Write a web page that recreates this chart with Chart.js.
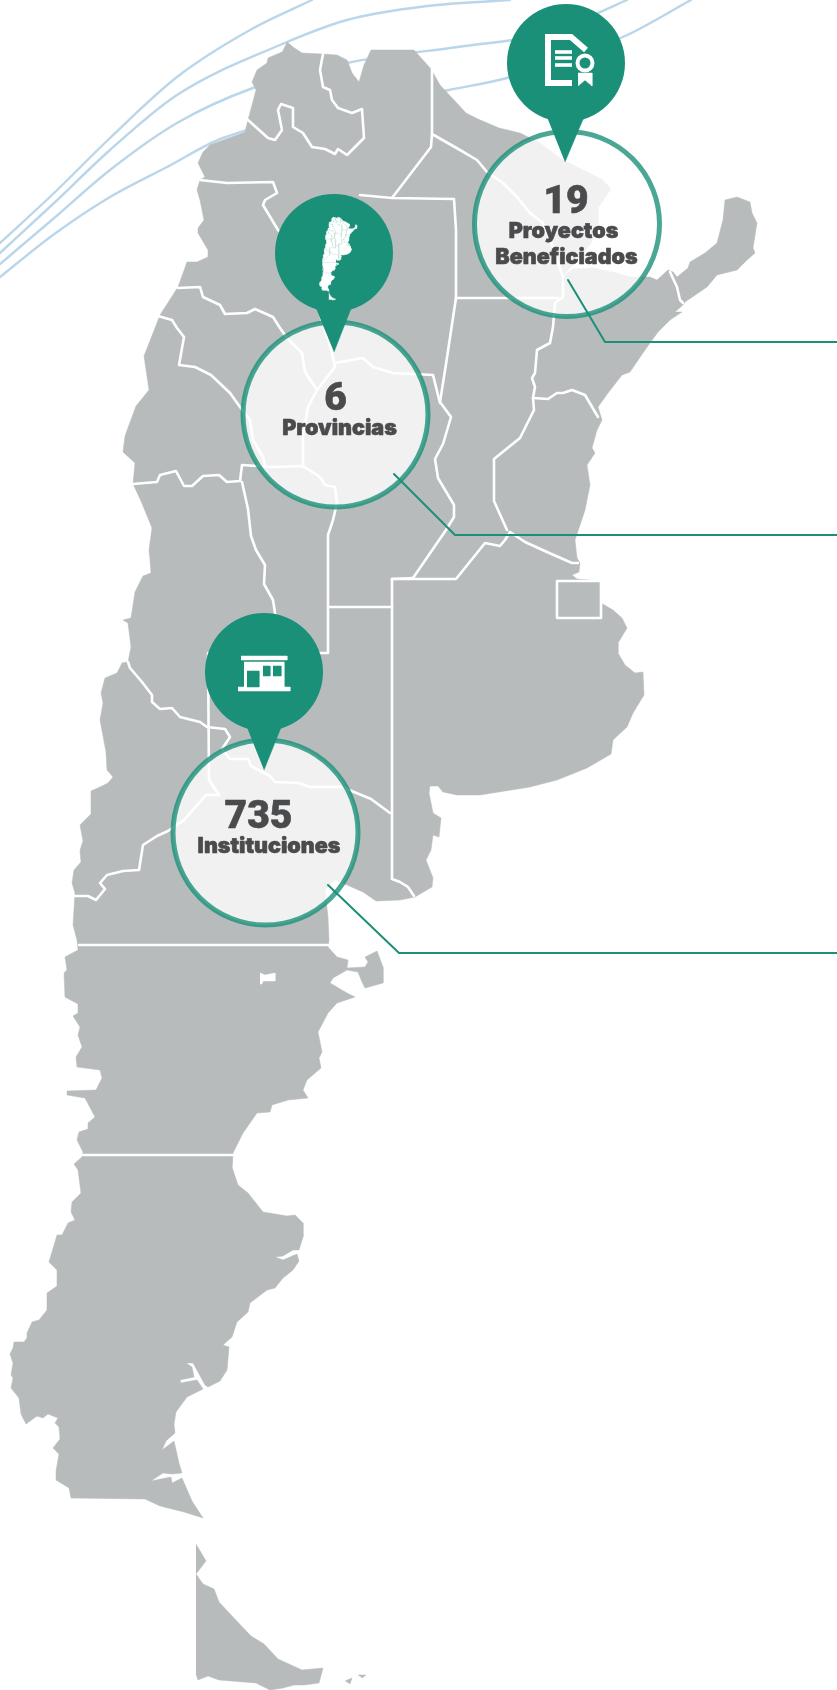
<!DOCTYPE html>
<html lang="es">
<head>
<meta charset="utf-8">
<title>Mapa de instituciones</title>
<style>html,body{margin:0;padding:0;background:#fff}canvas{display:block}</style>
<script src="https://cdn.jsdelivr.net/npm/chart.js@4/dist/chart.umd.min.js"></script>
</head>
<body>
<canvas id="c" width="837" height="1690"></canvas>
<script>
// ---------- data (map coordinates) ----------
const calloutValues = ['19', '6', '735'];
const calloutNames = [['Proyectos', 'Beneficiados'], ['Provincias'], ['Instituciones']];

const outlineNorth = [[287,42],[293,47],[302,53],[323,54],[337,55],[347,60],[352,73],[359,82],[364,65],[371,50],[414,50],[431,69],[440,85],[454,100],[466,113],[478,119],[499,128],[520,133],[540,143],[563,160],[587,172],[603,180],[611,189],[598,208],[598,228],[590,245],[575,262],[562,277],[573,269],[593,268],[617,273],[630,277],[650,277],[657,280],[668,270],[673,272],[677,277],[688,268],[690,262],[705,253],[717,243],[723,220],[725,200],[737,197],[750,202],[752,213],[757,223],[753,248],[755,253],[747,260],[737,270],[717,275],[707,287],[685,302],[683,305],[675,312],[682,312],[670,320],[658,332],[645,350],[630,372],[622,375],[608,393],[598,407],[602,420],[597,430],[592,448],[595,453],[587,465],[590,485],[585,510],[575,540]];
const outlineEastCoast = [[577,558],[580,563],[579,572],[572,575],[577,579],[601,581],[601,603],[613,610],[622,618],[627,628],[618,643],[618,653],[625,665],[635,673],[643,672],[644,695],[633,713],[627,727],[613,740],[611,754],[587,768],[557,780],[530,787],[480,795],[457,795],[443,792],[438,786],[430,786],[429,793],[433,813],[441,818],[439,837],[433,835],[431,850],[426,860],[433,878],[432,887],[415,897],[400,900],[376,901],[363,892],[347,885],[335,880],[325,890],[328,917],[329,940],[328,947],[337,957],[348,960],[347,968],[365,967],[368,962],[365,957],[377,951],[383,967],[383,983],[365,988],[362,982],[358,972],[347,970],[333,978],[330,983],[347,993],[355,997],[337,1003],[328,1013],[318,1032],[322,1052],[319,1058],[321,1068],[307,1080],[303,1090],[308,1098],[288,1100],[272,1105],[270,1112],[257,1113],[243,1133],[233,1153],[232,1167],[238,1185],[248,1193],[263,1212],[287,1216],[295,1215],[303,1223],[303,1237],[299,1250],[293,1250],[283,1256],[275,1257],[283,1260],[297,1254],[299,1261],[293,1270],[283,1278],[275,1288],[267,1290],[250,1303],[248,1312],[237,1322],[232,1337],[223,1345],[229,1347],[227,1370],[220,1381],[208,1387],[205,1385],[198,1372],[193,1363],[186,1363],[192,1367],[194,1377],[180,1380],[180,1383],[197,1380],[203,1389],[187,1397],[176,1412],[174,1424],[175,1433],[166,1441],[162,1450],[174,1441],[179,1463],[182,1473],[172,1474],[163,1473],[151,1481],[171,1477],[172,1483],[182,1478],[192,1501],[203,1518],[184,1512],[160,1506],[145,1499]];
const outlineWestCoast = [[71,1498],[69,1488],[56,1480],[56,1471],[59,1454],[53,1448],[60,1439],[59,1427],[55,1423],[58,1418],[48,1414],[43,1418],[37,1416],[26,1424],[21,1414],[19,1398],[11,1388],[13,1378],[11,1375],[13,1363],[10,1354],[13,1348],[14,1342],[24,1342],[27,1338],[27,1333],[32,1322],[39,1320],[47,1310],[47,1293],[57,1286],[57,1270],[49,1262],[57,1235],[62,1235],[68,1223],[75,1220],[71,1212],[72,1202],[81,1193],[78,1170],[74,1164],[82,1157],[83,1152],[77,1140],[79,1132],[88,1129],[88,1123],[95,1117],[85,1098],[67,1095],[67,1091],[96,1090],[102,1078],[100,1070],[77,1067],[76,1057],[82,1047],[78,1035],[80,1027],[73,1016],[78,1013],[78,1004],[65,997],[64,973],[67,970],[65,957],[78,950],[77,940],[73,925],[75,893],[72,883],[74,870],[81,862],[80,850],[83,841],[80,825],[91,814],[91,791],[100,787],[108,783],[113,777],[107,770],[106,752],[100,720],[103,703],[101,693],[105,678],[117,673],[122,663],[128,662],[131,647],[128,623],[123,620],[131,618],[135,592],[143,576],[151,573],[150,560],[149,550],[152,528],[141,501],[133,484],[135,463],[123,452],[125,436],[136,406],[149,390],[144,356],[155,328],[160,315],[178,287],[187,262],[197,262],[208,257],[208,250],[198,233],[198,228],[204,220],[200,200],[197,190],[200,180],[205,177],[198,163],[203,152],[210,145],[245,132],[248,120],[256,90],[252,82],[257,70],[267,63],[268,58],[282,52]];
const outlineFuego = [[196,1544],[206,1561],[196,1574],[203,1584],[214,1589],[219,1602],[232,1616],[251,1636],[264,1644],[278,1659],[302,1670],[323,1668],[319,1683],[304,1685],[294,1685],[283,1688],[270,1690],[256,1683],[219,1680],[208,1676],[198,1680],[196,1674]];
const islandA = [[345,1681],[352,1678],[350,1684]];
const islandB = [[358,1675],[366,1675],[362,1678]];
const lakeSalinas = [[260,973],[265,975],[275,973],[275,981],[263,981],[262,984],[260,984]];

const borderJujuy = [[323,54],[320,70],[323,87],[330,90],[332,100],[338,108],[352,113],[362,109],[364,138],[355,147],[347,155],[338,149],[335,154],[325,149],[312,147],[303,133],[293,127],[293,108],[281,104],[278,110],[282,130],[275,140],[268,138],[248,120]];
const borderSaltaEast = [[432,69],[432,134],[431,147],[392,198]];
const borderFormosaChaco = [[432,134],[460,150],[477,160],[487,172],[503,183],[517,197],[530,213],[543,223],[552,245],[563,277]];
const borderSantiagoNorth = [[360,195],[392,198],[454,199],[456,230],[456,298]];
const borderChacoSouth = [[456,298],[558,298]];
const borderCorrientes = [[563,277],[563,297],[555,303],[553,327],[550,343],[537,350],[535,373],[532,378],[535,387],[533,398],[534,410],[520,438],[494,459],[494,501],[507,530]];
const borderEntreRiosSouth = [[510,532],[525,542],[547,552],[572,563],[578,563]];
const borderSantaFe = [[456,298],[446,364],[440,402],[451,417],[443,444],[435,459],[438,478],[454,505],[454,517],[446,530],[413,578]];
const borderEntreRios = [[533,398],[548,399],[557,393],[563,393],[572,390],[585,395],[598,417]];
const borderCatamarcaNorth = [[200,180],[227,183],[273,182],[277,193],[265,200],[263,205],[278,230],[300,255],[330,345]];
const borderLaRioja = [[178,288],[200,287],[203,297],[220,305],[225,314],[247,313],[255,309],[273,317],[280,328],[287,338],[302,353],[305,372],[317,390],[335,367],[330,345]];
const borderSantiagoCordoba = [[335,363],[363,358],[373,367],[393,373],[433,375],[440,403]];
const borderCordobaWest = [[317,390],[308,407],[303,437],[303,467]];
const borderSanJuanEast = [[158,316],[172,320],[177,328],[184,337],[179,365],[195,367],[211,375],[230,393],[240,407],[250,420],[253,440],[263,457],[265,466]];
const borderSanLuisNorth = [[133,484],[157,482],[160,475],[176,471],[184,486],[192,486],[203,476],[219,475],[227,482],[240,481],[242,465],[272,467],[303,466],[320,477],[325,485],[335,487],[337,503],[333,520],[328,535],[328,653],[208,653],[209,780],[219,795]];
const borderMendozaEast = [[242,482],[248,509],[251,536],[256,550],[265,565],[264,584],[273,600],[275,613],[282,640],[290,653]];
const borderCordobaSouth = [[329,607],[392,607]];
const borderPampaEast = [[413,578],[392,579],[392,879],[400,882],[408,887],[414,896]];
const borderBuenosAiresNorth = [[392,579],[456,579],[485,543],[500,546],[505,540],[510,532]];
const borderNeuquenNorth = [[128,662],[130,668],[142,682],[152,695],[152,702],[160,709],[172,708],[180,717],[200,722],[207,727],[225,729],[230,737],[222,749],[230,759],[248,759],[251,766],[270,776],[275,782],[299,783],[310,787],[342,787],[371,799],[390,813]];
const borderNeuquenSouth = [[75,896],[88,896],[96,900],[105,889],[100,883],[107,875],[123,871],[139,870],[143,845],[157,836],[168,831],[184,820],[206,795],[219,795]];
const borderRioNegroChubut = [[79,945],[328,945]];
const borderChubutSantaCruz = [[83,1155],[233,1155]];
const borderMisiones = [[670,272],[677,287],[680,300],[683,303]];
const borderCapital = [[557,581],[601,581],[601,618],[557,618],[557,581]];
const provinceBorders = [borderJujuy,borderSaltaEast,borderFormosaChaco,borderSantiagoNorth,borderChacoSouth,borderCorrientes,borderEntreRiosSouth,borderSantaFe,borderEntreRios,borderCatamarcaNorth,borderLaRioja,borderSantiagoCordoba,borderCordobaWest,borderSanJuanEast,borderSanLuisNorth,borderMendozaEast,borderCordobaSouth,borderPampaEast,borderBuenosAiresNorth,borderNeuquenNorth,borderNeuquenSouth,borderRioNegroChubut,borderChubutSantaCruz,borderMisiones,borderCapital];

const riverA = [[0,243],[53,194],[110,138],[177,77],[250,30],[312,0]];
const riverB = [[0,253],[53,204],[110,150],[177,95],[280,45],[347,20],[427,6],[510,0]];
const riverC = [[0,264],[53,219],[110,170],[177,123],[253,88],[347,63],[465,46],[534,36],[593,15],[627,0]];
const riverD = [[0,277],[53,235],[110,197],[167,167],[223,138],[449,90],[507,78],[625,36],[691,0]];

const ringCentres = [[567,224],[335.5,414.5],[265.5,832.5]];
const pinCentres = [[566,63],[334,253],[264,672]];
const pinTails = [[[547,117],[584,117],[565,162]],[[315,306],[352,306],[334,352]],[[246,725],[282,725],[264,770]]];
const leaderA = [[568,280],[605,342],[837,342]];
const leaderB = [[394,474],[455,535],[837,535]];
const leaderC = [[328,885],[399,953],[837,953]];

const docPage = [[586,50],[571,37],[548,37],[548,83],[572,83]];
const docLines = [[[555,52],[572,52]],[[555,58],[572,58]],[[555,65],[572,65]]];
const docSeal = [[585,63]];
const docRibbon = [[578,73],[592,73],[592,86],[585,80],[578,86]];
const shopRoof = [[241,656],[287,656],[287,660],[241,660]];
const shopBody = [[244,662],[284,662],[284,687],[244,687]];
const shopDoor = [[247,671],[259,671],[259,687],[247,687]];
const shopWindowA = [[263,666],[270,666],[270,676],[263,676]];
const shopWindowB = [[273,666],[281,666],[281,676],[273,676]];
const shopBase = [[238,687],[290,687],[290,691],[238,691]];

// ---------- styling and chart assembly ----------
const GREY = '#b7bbbc', TEAL = '#1b9079', RING = 'rgba(27,145,121,0.8)', DISC = 'rgba(255,255,255,0.8)', BLUE = '#bad6ea';
const pts = a => a.map(p => ({x: p[0], y: p[1]}));
const line = (a, color, width, extra) => Object.assign({data: pts(a), showLine: true, pointRadius: 0, borderColor: color, borderWidth: width, borderJoinStyle: 'round', borderCapStyle: 'round', fill: false}, extra || {});
const shape = (a, color) => ({data: pts(a), showLine: true, pointRadius: 0, borderColor: color, backgroundColor: color, borderWidth: 0.5, fill: 'shape'});
const dot = (a, radius, bg, bc, bw) => ({data: pts(a), showLine: false, pointRadius: radius, pointBackgroundColor: bg, pointBorderColor: bc, pointBorderWidth: bw});

const outlineMain = [...outlineNorth, ...outlineEastCoast, ...outlineWestCoast];
// the little country inside the second pin re-uses the outline at a small size
const mini = a => a.map(p => [319.5 + (p[0] - 10) * 0.0503, 217 + (p[1] - 41) * 0.0503]);

const layers = [
  ...[riverA, riverB, riverC, riverD].map(r => line(r, BLUE, 2.4, {cubicInterpolationMode: 'monotone'})),
  shape(outlineMain, GREY), shape(outlineFuego, GREY), shape(islandA, GREY), shape(islandB, GREY),
  shape(lakeSalinas, '#fff'),
  ...provinceBorders.map(b => line(b, '#fff', 2.6)),
  dot(ringCentres, 92.5, DISC, RING, 5),
  line(leaderA, TEAL, 2), line(leaderB, TEAL, 2), line(leaderC, TEAL, 2),
  ...pinTails.map(t => shape(t, TEAL)),
  dot(pinCentres, 59, TEAL, TEAL, 0),
  shape(mini(outlineMain), '#fff'), shape(mini(outlineFuego), '#fff'),
  ...provinceBorders.map(b => line(mini(b), '#bfe3d8', 0.5)),
  line(docPage, '#fff', 6, {borderCapStyle: 'butt', borderJoinStyle: 'miter'}),
  ...docLines.map(l => line(l, '#fff', 3.6, {borderCapStyle: 'butt'})),
  dot(docSeal, 7.5, 'rgba(0,0,0,0)', '#fff', 4),
  shape(docRibbon, '#fff'),
  shape(shopRoof, '#fff'), shape(shopBody, '#fff'), shape(shopBase, '#fff'),
  shape(shopDoor, TEAL), shape(shopWindowA, TEAL), shape(shopWindowB, TEAL)
];
// lower "order" paints on top: keep the list above in painting order
layers.forEach((d, i) => { d.order = layers.length - i; });

const DIGITS = '900 39px Roboto, "Noto Sans", sans-serif';
const WORDS = '900 21.5px Inter, "Noto Sans", sans-serif';
const textRows = [
  {t: calloutValues[0], x: 566, y: 213, font: DIGITS},
  {t: calloutNames[0][0], x: 563.5, y: 238, font: WORDS},
  {t: calloutNames[0][1], x: 566.5, y: 264, font: WORDS},
  {t: calloutValues[1], x: 335.5, y: 410, font: DIGITS},
  {t: calloutNames[1][0], x: 339.5, y: 435, font: WORDS},
  {t: calloutValues[2], x: 258.5, y: 828, font: DIGITS},
  {t: calloutNames[2][0], x: 269, y: 853, font: WORDS}
];
const calloutText = {
  id: 'calloutText',
  afterDatasetsDraw(chart) {
    const {ctx, scales} = chart;
    ctx.save();
    ctx.fillStyle = '#4a4b4d';
    ctx.strokeStyle = '#4a4b4d';
    ctx.lineWidth = 0.6;
    ctx.lineJoin = 'round';
    ctx.textAlign = 'center';
    ctx.textBaseline = 'alphabetic';
    textRows.forEach(r => {
      const px = scales.x.getPixelForValue(r.x), py = scales.y.getPixelForValue(r.y);
      ctx.font = r.font;
      ctx.fillText(r.t, px, py);
      ctx.strokeText(r.t, px, py);
    });
    ctx.restore();
  }
};

new Chart(document.getElementById('c'), {
  type: 'scatter',
  data: {datasets: layers},
  plugins: [calloutText],
  options: {
    responsive: false,
    animation: false,
    devicePixelRatio: 1,
    events: [],
    layout: {padding: 0, autoPadding: false},
    plugins: {legend: {display: false}, tooltip: {enabled: false}, title: {display: false}},
    scales: {
      x: {type: 'linear', min: 0, max: 837, display: false},
      y: {type: 'linear', min: 0, max: 1690, reverse: true, display: false}
    }
  }
});
</script>
</body>
</html>
